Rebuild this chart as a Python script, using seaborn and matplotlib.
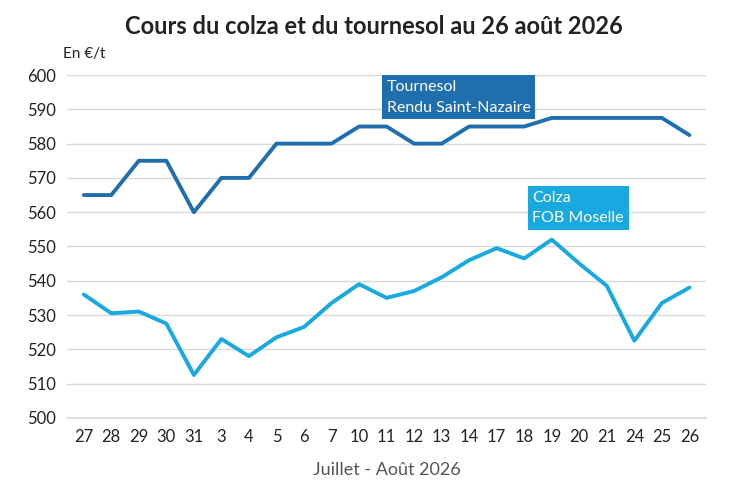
import matplotlib
matplotlib.use("Agg")
import matplotlib.pyplot as plt
import seaborn as sns
import pandas as pd

dates = ["27","28","29","30","31","3","4","5","6","7","10","11","12","13","14","17","18","19","20","21","24","25","26"]
tournesol = [565,565,575,575,560,570,570,580,580,580,585,585,580,580,585,585,585,587.5,587.5,587.5,587.5,587.5,582.5]
colza = [536,530.5,531,527.5,512.5,523,518,523.5,526.5,533.5,539,535,537,541,546,549.5,546.5,552,545,538.5,522.5,533.5,538]

sns.set_theme(style="white")
plt.rcParams['font.family'] = ['Lato', 'DejaVu Sans']
dark = "#1F6EAE"
light = "#17A9DF"

df = pd.DataFrame({"x": range(len(dates)), "t": tournesol, "c": colza})
fig, ax = plt.subplots(figsize=(7.47, 5.04), dpi=100)
fig.subplots_adjust(left=0.090, right=0.945, top=0.851, bottom=0.171)
sns.lineplot(data=df, x="x", y="t", color=dark, lw=2.8, ax=ax)
sns.lineplot(data=df, x="x", y="c", color=light, lw=2.8, ax=ax)
ax.set_ylim(500, 600)
ax.set_yticks(range(500, 601, 10))
ax.set_xlim(-0.6, len(dates) - 0.4)
ax.set_xticks(range(len(dates)))
ax.set_xticklabels(dates)
ax.tick_params(labelsize=12, colors="#222222", length=0, pad=8)
ax.grid(axis="y", color="#d9d9d9", lw=1)
for s in ["top", "right", "left"]:
    ax.spines[s].set_visible(False)
ax.spines["bottom"].set_color("#d9d9d9")
ax.set_xlabel("Juillet - Août 2026", fontsize=13, color="#555555", labelpad=12)
ax.set_ylabel("")
fig.suptitle("Cours du colza et du tournesol au 26 août 2026", fontsize=17, fontweight="bold", color="#222222", y=0.97)
fig.text(0.085, 0.885, "En €/t", fontsize=11, color="#222222")
ax.text(11.0, 593.5, "Tournesol\nRendu Saint-Nazaire", fontsize=11.5, color="white", va="center", linespacing=1.6,
        bbox=dict(boxstyle="square,pad=0.3", fc=dark, ec="none"))
ax.text(16.3, 561.2, "Colza\nFOB Moselle", fontsize=11.5, color="white", va="center", linespacing=1.6,
        bbox=dict(boxstyle="square,pad=0.3", fc=light, ec="none"))
fig.savefig("out.png", dpi=100)
